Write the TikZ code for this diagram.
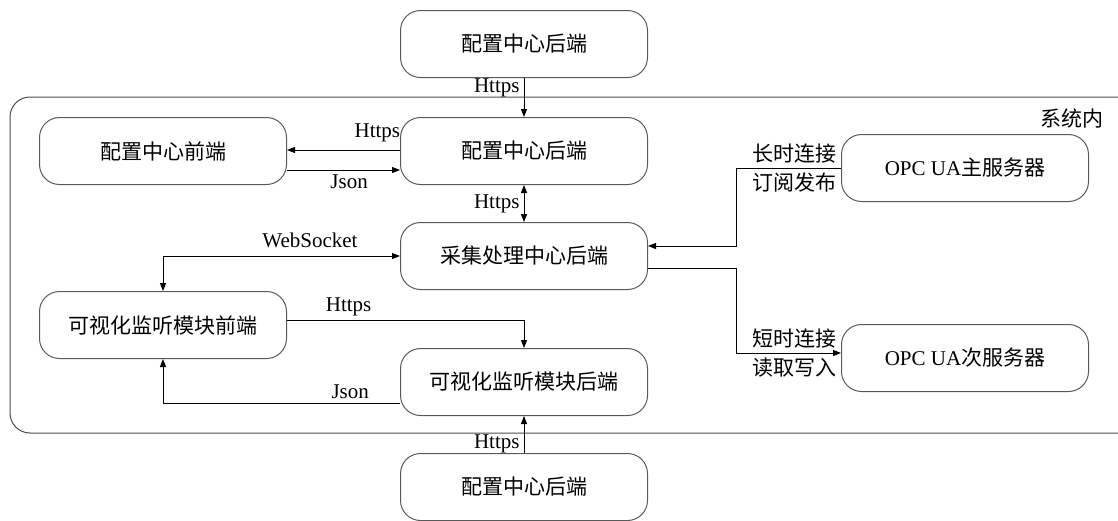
\documentclass[tikz,border=0pt]{standalone}
\usepackage{fontspec}
\setmainfont{Liberation Serif}
\newfontfamily\cjk{Noto Sans CJK SC}
\usetikzlibrary{arrows.meta,positioning}

\begin{document}
\begin{tikzpicture}[x=0.5pt,y=-0.5pt,>={Triangle[length=4pt,width=3pt]},
  box/.style={draw=black!65,line width=0.5pt,rounded corners=10pt,minimum width=123.5pt,minimum height=33.5pt,font=\cjk\fontsize{10.5}{12}\selectfont},
  lbl/.style={font=\fontsize{10.5}{12}\selectfont,inner sep=2pt},
  every path/.append style={line width=0.5pt}]
\useasboundingbox (0,0) rectangle (1118,520);
% system frame
\draw[black!70,rounded corners=10pt] (10,97) rectangle (1140,433);
\node[lbl,anchor=east] (sys) at (1108,118) {\cjk 系统内};

\node[box] (top) at (524,44) {配置中心后端};
\node[box] (cfront) at (163,151) {配置中心前端};
\node[box] (cback) at (524,151) {配置中心后端};
\node[box] (collect) at (524,256) {采集处理中心后端};
\node[box] (vfront) at (163,325) {可视化监听模块前端};
\node[box] (vback) at (524,382) {可视化监听模块后端};
\node[box] (bottom) at (524,487) {配置中心后端};
\node[box] (opc1) at (965,168) {{\rmfamily OPC UA}主服务器};
\node[box] (opc2) at (965,358) {{\rmfamily OPC UA}次服务器};

\draw[->] (top.south) -- (cback.north) node[lbl,pos=0.25,left]{Https};
\draw[->] ([yshift=0.5pt]cback.west) -- ([yshift=0.5pt]cfront.east) node[lbl,pos=0.2,above=2pt]{Https};
\draw[->] ([yshift=-9.5pt]cfront.east) -- ([yshift=-9.5pt]cback.west) node[lbl,pos=0.55,below]{Json};
\draw[<->] (cback.south) -- (collect.north) node[lbl,midway,left]{Https};
\draw[<->] (vfront.north) |- (collect.west) node[lbl,pos=0.81,above=2pt]{WebSocket};
\draw[->] ([yshift=2.5pt]vfront.east) -| (vback.north) node[lbl,pos=0.13,above]{Https};
\draw[->] ([yshift=-10.5pt]vback.west) -| (vfront.south) node[lbl,pos=0.105,above]{Json};
\draw[->] (bottom.north) -- (vback.south) node[lbl,pos=0.25,left]{Https};

\draw[->] (opc1.west) -- ++(-105,0) node[lbl,pos=0,above left]{\cjk 长时连接} node[lbl,pos=0,below left]{\cjk 订阅发布}
  |- ([yshift=5pt]collect.east);
\draw[->] ([yshift=-6pt]collect.east) -- ++(88,0) |- ([yshift=2.5pt]opc2.west)
  node[lbl,pos=1,above left]{\cjk 短时连接} node[lbl,pos=1,below left]{\cjk 读取写入};
\end{tikzpicture}
\end{document}
